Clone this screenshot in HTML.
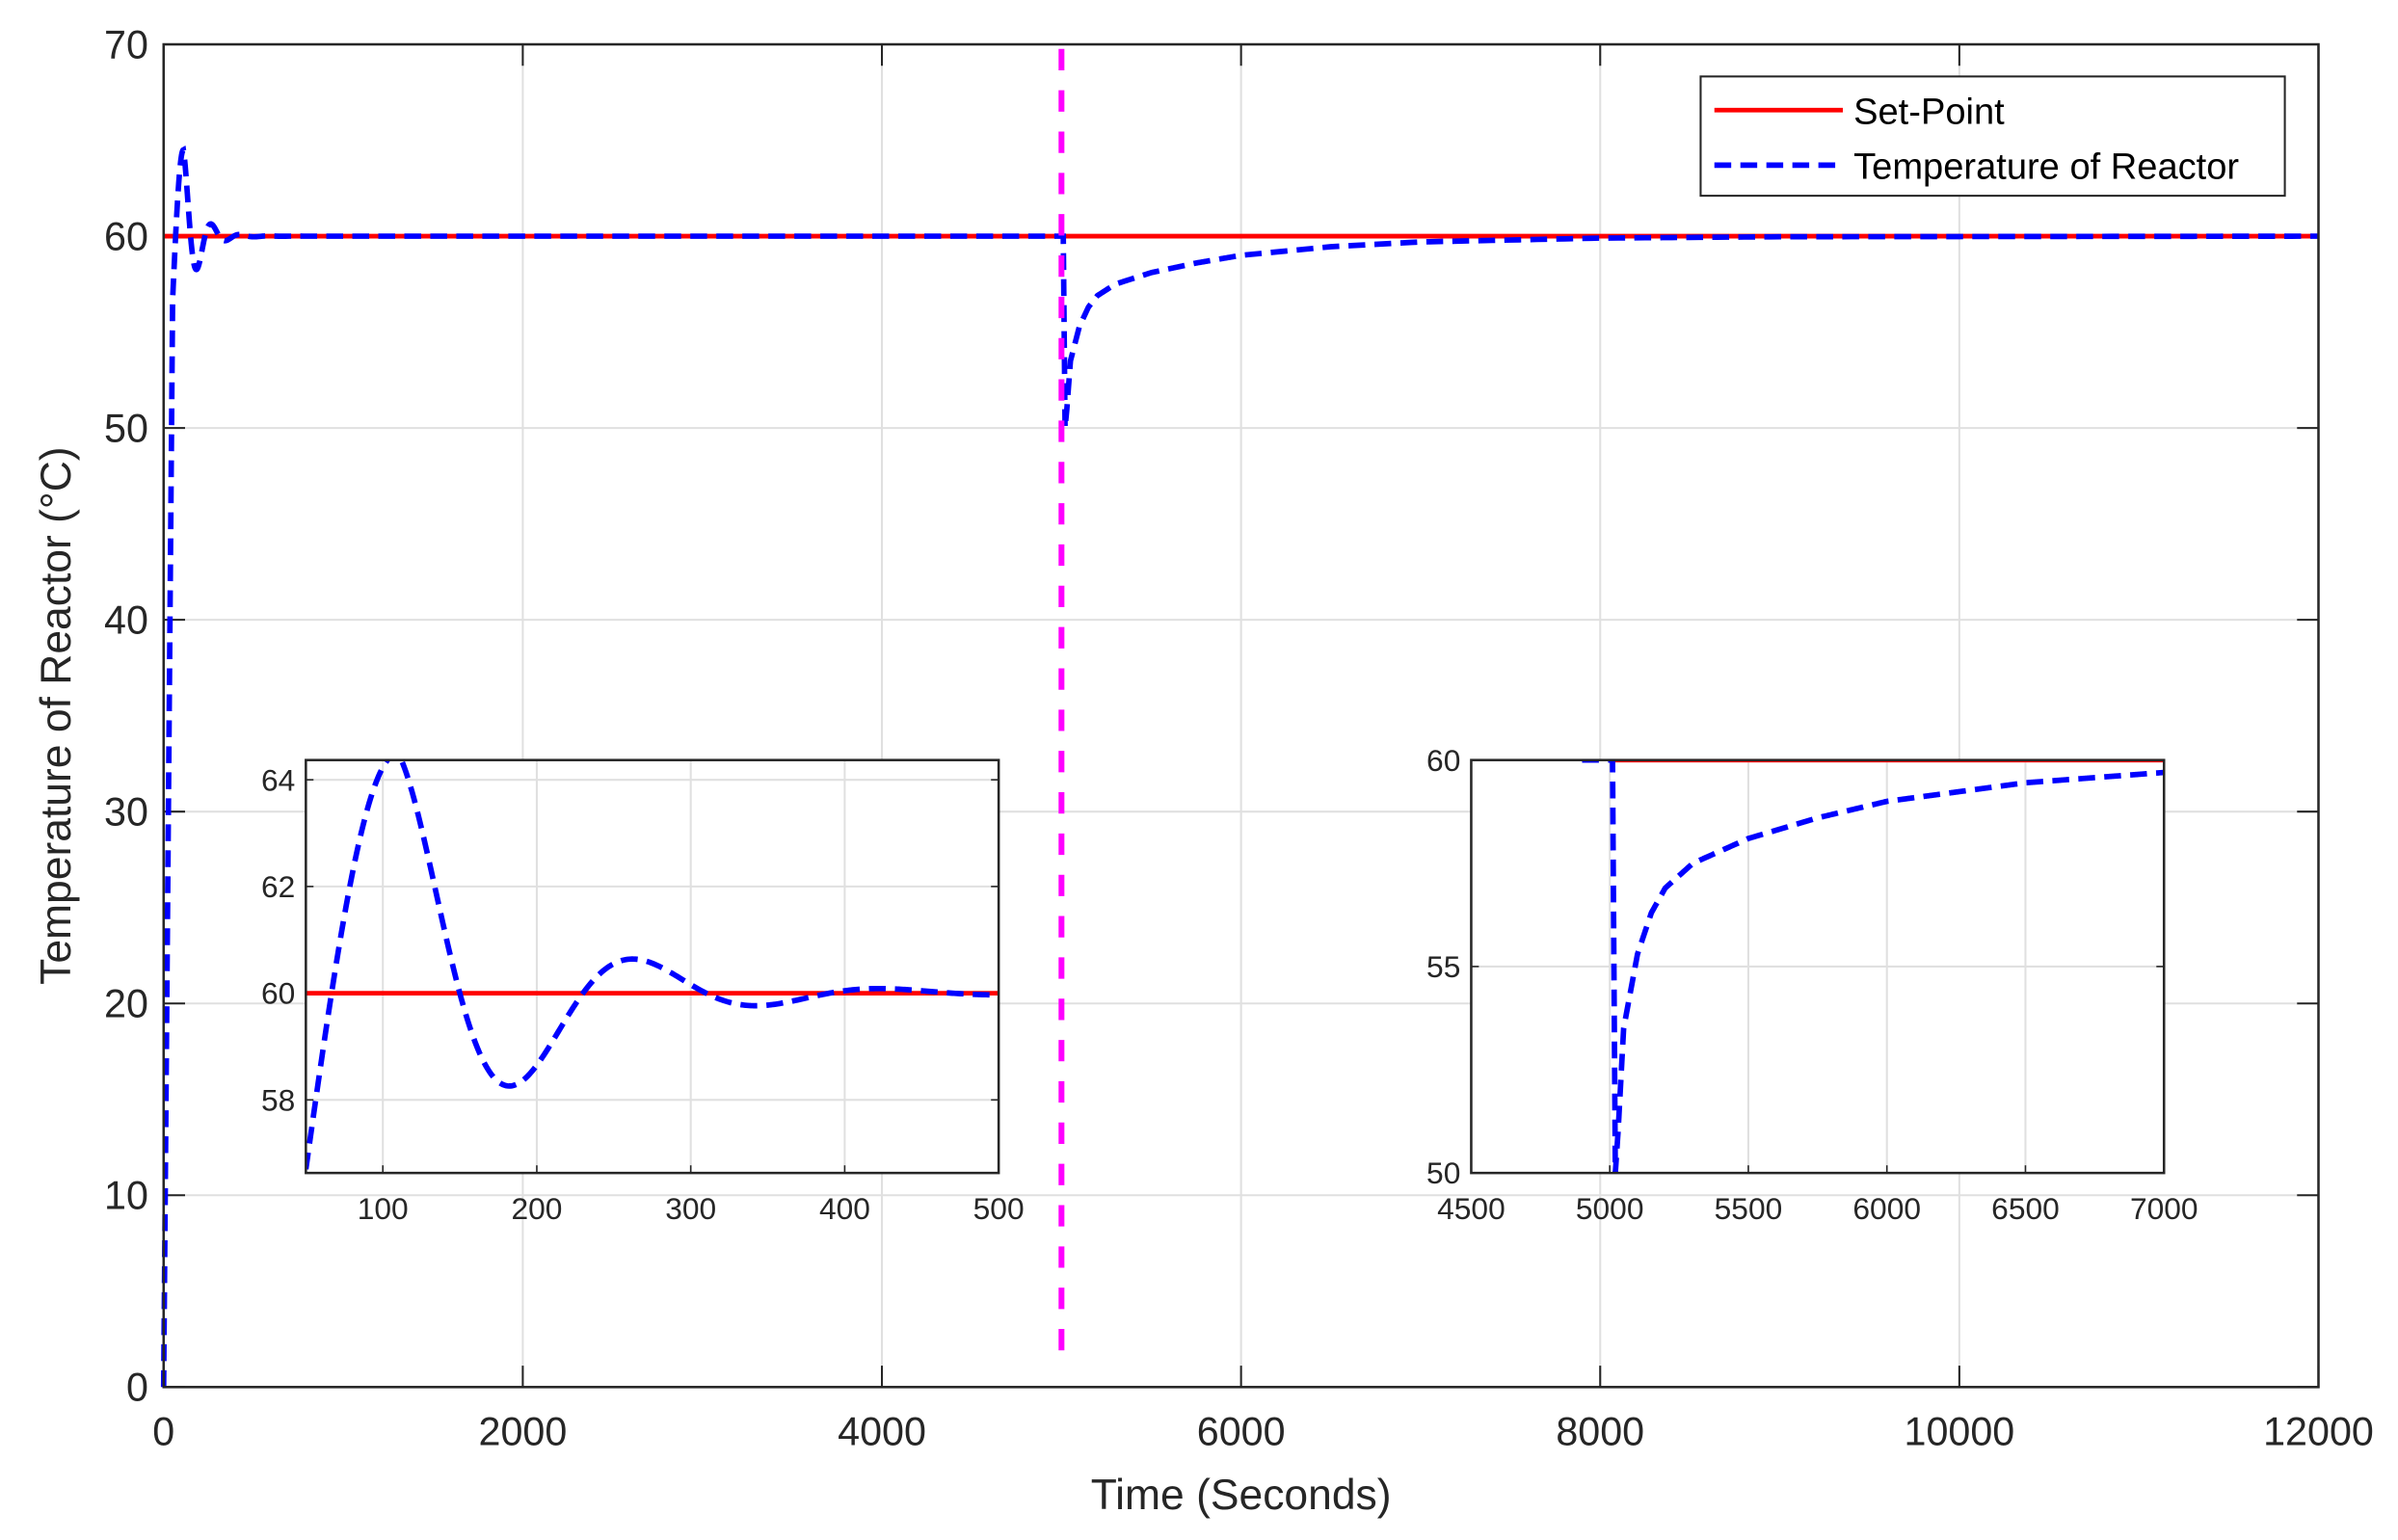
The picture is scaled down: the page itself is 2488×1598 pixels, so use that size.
<!DOCTYPE html>
<html><head><meta charset="utf-8"><style>html,body{margin:0;padding:0;background:#fff}svg{display:block}</style></head>
<body>
<svg id="s" width="2488" height="1598" viewBox="0 0 1568 1007" preserveAspectRatio="none" xmlns="http://www.w3.org/2000/svg" font-family="Liberation Sans, sans-serif"></svg>
<script>
const s=document.getElementById('s');let h='';
function add(x){h+=x;}
function early(t){
 if(t<50) return 56.7*t/50;
 if(t<110) return 56.7+7.8*Math.sin(Math.PI/2*(t-50)/60);
 return 60+4.5*Math.exp(-(t-110)/80)*Math.cos(2*Math.PI*(t-110)/160);
}
const rec=[[5020,50],[5030,51],[5050,53.5],[5100,55.3],[5150,56.3],[5200,56.9],[5300,57.5],[5500,58.1],[5750,58.6],[6000,59.0],[6500,59.45],[7000,59.7],[8000,59.9],[9000,59.97],[12000,60]];
function late(t){for(let i=0;i<rec.length-1;i++){const a=rec[i],b=rec[i+1];if(t<=b[0]){const u=(t-a[0])/(b[0]-a[0]);return a[1]+u*(b[1]-a[1]);}}return 60;}
const L=107,R=1516,T=29,B=907;
const X=t=>L+t/12000*(R-L), Y=v=>B-v/70*(B-T);
for(let i=1;i<6;i++){const x=X(i*2000);add(`<line x1="${x}" y1="${T}" x2="${x}" y2="${B}" stroke="#e0e0e0" stroke-width="1.3"/>`);}
for(let i=1;i<7;i++){const y=Y(i*10);add(`<line x1="${L}" y1="${y}" x2="${R}" y2="${y}" stroke="#e0e0e0" stroke-width="1.3"/>`);}
for(let i=0;i<=6;i++){const x=X(i*2000);add(`<line x1="${x}" y1="${B}" x2="${x}" y2="${B-14}" stroke="#262626" stroke-width="1.3"/><line x1="${x}" y1="${T}" x2="${x}" y2="${T+14}" stroke="#262626" stroke-width="1.3"/><text x="${x}" y="${B+38}" font-size="26" text-anchor="middle" fill="#262626">${i*2000}</text>`);}
for(let i=0;i<=7;i++){const y=Y(i*10);add(`<line x1="${L}" y1="${y}" x2="${L+14}" y2="${y}" stroke="#262626" stroke-width="1.3"/><line x1="${R}" y1="${y}" x2="${R-14}" y2="${y}" stroke="#262626" stroke-width="1.3"/><text x="${L-10}" y="${y+9}" font-size="26" text-anchor="end" fill="#262626">${i*10}</text>`);}
add(`<line x1="${L}" y1="${Y(60)}" x2="${R}" y2="${Y(60)}" stroke="#ff0000" stroke-width="3"/>`);
let p='';for(let t=0;t<=5000;t+=(t<600?2:20)){p+=(p?'L':'M')+X(t).toFixed(2)+','+Y(early(t)).toFixed(2);}
p+='L'+X(5010)+','+Y(60);
for(let t=5020;t<=12000;t+=(t<6000?5:50)){p+='L'+X(t).toFixed(2)+','+Y(late(t)).toFixed(2);}
add(`<path d="${p}" fill="none" stroke="#0000ff" stroke-width="3.6" stroke-dasharray="11,6"/>`);
add(`<line x1="${X(5000)}" y1="32" x2="${X(5000)}" y2="893" stroke="#ff00ff" stroke-width="3.8" stroke-dasharray="14,13"/>`);
add(`<rect x="${L}" y="${T}" width="${R-L}" height="${B-T}" fill="none" stroke="#262626" stroke-width="1.6"/>`);
add(`<text x="${(L+R)/2}" y="987" font-size="28" text-anchor="middle" fill="#262626">Time (Seconds)</text>`);
add(`<text transform="translate(46,${(T+B)/2}) rotate(-90)" font-size="28" text-anchor="middle" fill="#262626">Temperature of Reactor (°C)</text>`);
add(`<rect x="1112" y="50" width="382" height="78" fill="#fff" stroke="#262626" stroke-width="1.3"/>`);
add(`<line x1="1121" y1="72" x2="1205" y2="72" stroke="#ff0000" stroke-width="3"/><text x="1212" y="81" font-size="24" fill="#000">Set-Point</text>`);
add(`<line x1="1121" y1="108" x2="1205" y2="108" stroke="#0000ff" stroke-width="3.6" stroke-dasharray="11,6"/><text x="1212" y="117" font-size="24" fill="#000">Temperature of Reactor</text>`);
function inset(x0,y0,x1,y1,xmin,xmax,ymin,ymax,xt,yt,fn,tstep,t0,extra,clip){
 const IX=t=>x0+(t-xmin)/(xmax-xmin)*(x1-x0), IY=v=>y1-(v-ymin)/(ymax-ymin)*(y1-y0);
 add(`<rect x="${x0}" y="${y0}" width="${x1-x0}" height="${y1-y0}" fill="#fff"/>`);
 xt.forEach(t=>{const x=IX(t);add(`<line x1="${x}" y1="${y0}" x2="${x}" y2="${y1}" stroke="#e0e0e0" stroke-width="1.3"/><line x1="${x}" y1="${y1}" x2="${x}" y2="${y1-5}" stroke="#262626"/><text x="${x}" y="${y1+30}" font-size="20" text-anchor="middle" fill="#262626">${t}</text>`);});
 yt.forEach(v=>{const y=IY(v);add(`<line x1="${x0}" y1="${y}" x2="${x1}" y2="${y}" stroke="#e0e0e0" stroke-width="1.3"/><line x1="${x0}" y1="${y}" x2="${x0+5}" y2="${y}" stroke="#262626"/><line x1="${x1}" y1="${y}" x2="${x1-5}" y2="${y}" stroke="#262626"/><text x="${x0-7}" y="${y+7}" font-size="20" text-anchor="end" fill="#262626">${v}</text>`);});
 add(`<clipPath id="${clip}"><rect x="${x0}" y="${y0}" width="${x1-x0}" height="${y1-y0}"/></clipPath><g clip-path="url(#${clip})">`);
 add(`<line x1="${extra}" y1="${IY(60)}" x2="${x1}" y2="${IY(60)}" stroke="#ff0000" stroke-width="3"/>`);
 let q='';for(let t=t0;t<=xmax;t+=tstep){q+=(q?'L':'M')+IX(t).toFixed(2)+','+IY(fn(t)).toFixed(2);}
 add(`<path d="${q}" fill="none" stroke="#0000ff" stroke-width="3.6" stroke-dasharray="11,6"/></g>`);
 add(`<rect x="${x0}" y="${y0}" width="${x1-x0}" height="${y1-y0}" fill="none" stroke="#262626" stroke-width="1.6"/>`);
}
inset(200,497,653,767,50,500,56.63,64.37,[100,200,300,400,500],[58,60,62,64],early,1,50,200,'c1');
inset(962,497,1415,767,4500,7000,50,60,[4500,5000,5500,6000,6500,7000],[50,55,60],
 t=>t<5010?60:(t<5020?60-(t-5010):late(t)),2,4900,1052,'c2');
s.innerHTML=h;
</script>
</body></html>
